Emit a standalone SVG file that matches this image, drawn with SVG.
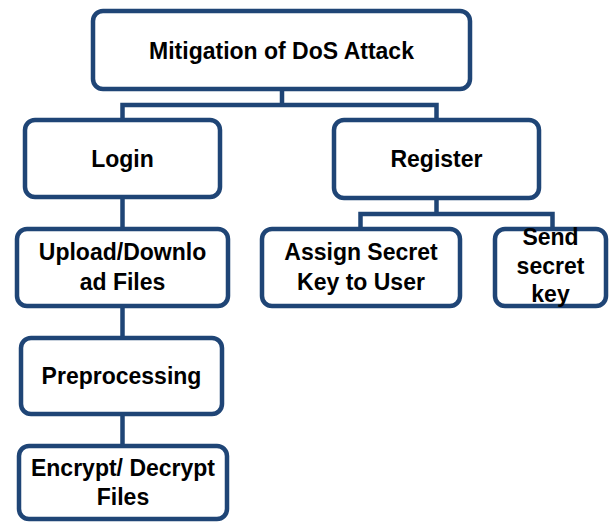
<svg xmlns="http://www.w3.org/2000/svg" width="612" height="522" viewBox="0 0 612 522">
<style>
.box{fill:#ffffff;stroke:#1F4576;stroke-width:4.5}
.con{fill:none;stroke:#1F4576;stroke-width:4.5}
text{font-family:"Liberation Sans",Arial,sans-serif;font-weight:bold;font-size:23px;fill:#000000;text-anchor:middle}
</style>
<rect width="612" height="522" fill="#ffffff"/>
<g id="connectors">
<path class="con" d="M282 89 V105 M122.5 120 V105 H436.5 V120"/>
<path class="con" d="M436.5 198 V214 M360.5 229 V214 H552.5 V229"/>
<path class="con" d="M122.5 197 V229 M122.5 306 V338 M122.5 414 V446"/>
</g>
<g id="mitigation">
<rect class="box" x="93" y="11" width="377" height="78" rx="10"/>
<text x="281.5" y="59">Mitigation of DoS Attack</text>
</g>
<g id="login">
<rect class="box" x="25" y="120" width="195" height="77" rx="10"/>
<text x="122.5" y="167">Login</text>
</g>
<g id="register">
<rect class="box" x="334" y="120" width="205" height="78" rx="10"/>
<text x="436.5" y="167">Register</text>
</g>
<g id="upload">
<rect class="box" x="17" y="229" width="211" height="77" rx="10"/>
<text x="122.5" y="260">Upload/Downlo</text>
<text x="122.5" y="290">ad Files</text>
</g>
<g id="assign">
<rect class="box" x="262" y="229" width="198" height="77" rx="10"/>
<text x="361" y="260">Assign Secret</text>
<text x="361" y="290">Key to User</text>
</g>
<g id="send">
<rect class="box" x="495" y="229" width="111" height="77" rx="10"/>
<text x="550.5" y="245">Send</text>
<text x="550.5" y="273.5">secret</text>
<text x="550.5" y="302">key</text>
</g>
<g id="preprocessing">
<rect class="box" x="21" y="338" width="201" height="76" rx="10"/>
<text x="121.5" y="384">Preprocessing</text>
</g>
<g id="encrypt">
<rect class="box" x="19" y="446" width="208" height="73" rx="10"/>
<text x="123" y="476">Encrypt/ Decrypt</text>
<text x="123" y="505">Files</text>
</g>
</svg>
